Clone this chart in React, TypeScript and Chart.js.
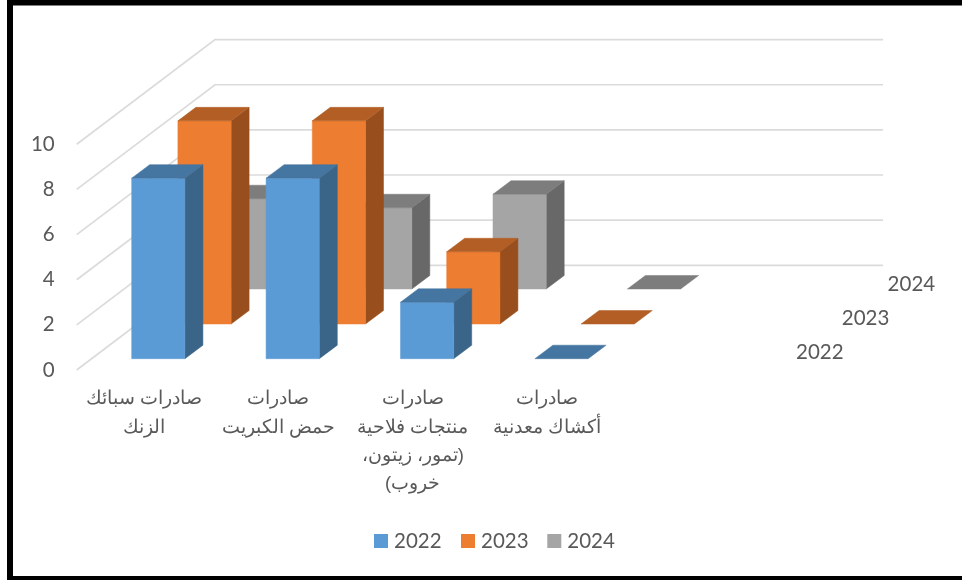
import React, { useEffect, useRef } from "react";
import { Chart, registerables } from "chart.js";

Chart.register(...registerables);

const categories: string[][] = [
  ["صادرات سبائك", "الزنك"],
  ["صادرات", "حمض الكبريت"],
  ["صادرات", "منتجات فلاحية", "(تمور، زيتون،", "خروب)"],
  ["صادرات", "أكشاك معدنية"],
];
const blankCategory = "";
const values2022 = [8, 8, 2.5, 0];
const values2023 = [9, 9, 3.2, 0];
const values2024 = [4, 3.6, 4.2, 0];
const seriesNames = ["2022", "2023", "2024"];
const faceColors = ["#5B9BD5", "#ED7D31", "#A5A5A5"];
const topColors = ["#4575A1", "#B35E24", "#7D7D7D"];
const sideColors = ["#3A6588", "#994F1D", "#686868"];
const legendSwatchX = [374, 461, 547.3];

const TEXT = "#595959";
const LATIN = 'Lato, "Open Sans", sans-serif';
const depthDx = [14.4, 60.6, 106.9];
const depthDy = [-11.3, -46, -81];
const BAR_DX = 18;
const BAR_DY = -13.5;
const WALL_DX = 138.3;
const WALL_DY = -104.7;

const poly = (ctx: CanvasRenderingContext2D, pts: number[][], color: string) => {
  ctx.beginPath();
  pts.forEach(([x, y], i) => (i ? ctx.lineTo(x, y) : ctx.moveTo(x, y)));
  ctx.closePath();
  ctx.fillStyle = color;
  ctx.strokeStyle = color;
  ctx.lineWidth = 0.5;
  ctx.fill();
  ctx.stroke();
};

const scene3d = {
  id: "scene3d",
  beforeDraw(chart: any) {
    const { ctx, width, height } = chart;
    ctx.save();
    ctx.fillStyle = "#fff";
    ctx.fillRect(0, 0, width, height);
    ctx.fillStyle = "#000";
    ctx.fillRect(7, 0, width - 7, 5.5);
    ctx.fillRect(7, 0, 6, height);
    ctx.fillRect(7, 576, width - 7, 4);
    ctx.restore();
  },
  beforeDatasetsDraw(chart: any) {
    const { ctx } = chart;
    const xs = chart.scales.x;
    const ys = chart.scales.y;
    ctx.save();
    // perspective gridlines
    ctx.strokeStyle = "#DBDBDB";
    ctx.lineWidth = 1.7;
    ys.ticks.forEach((t: any) => {
      const y = ys.getPixelForValue(t.value);
      ctx.beginPath();
      ctx.moveTo(xs.left, y);
      ctx.lineTo(xs.left + WALL_DX, y + WALL_DY);
      ctx.lineTo(xs.right + WALL_DX - 4, y + WALL_DY);
      ctx.stroke();
    });
    // bars, back row first
    for (let d = chart.data.datasets.length - 1; d >= 0; d--) {
      const meta = chart.getDatasetMeta(d);
      meta.data.forEach((el: any) => {
        const { x, y, base, width } = el.getProps(["x", "y", "base", "width"], true);
        const l = x - width / 2 + depthDx[d];
        const r = l + width;
        const t = y + depthDy[d];
        const b = base + depthDy[d];
        if (b - t > 0.5) {
          poly(ctx, [[r, t], [r + BAR_DX, t + BAR_DY], [r + BAR_DX, b + BAR_DY], [r, b]], sideColors[d]);
          poly(ctx, [[l, t], [r, t], [r, b], [l, b]], faceColors[d]);
        }
        poly(ctx, [[l, t], [l + BAR_DX, t + BAR_DY], [r + BAR_DX, t + BAR_DY], [r, t]], topColors[d]);
      });
    }
    // depth axis labels
    ctx.fillStyle = TEXT;
    ctx.font = `20.5px ${LATIN}`;
    ctx.textBaseline = "middle";
    ctx.textAlign = "left";
    const y0 = ys.getPixelForValue(0);
    seriesNames.forEach((name, i) => {
      ctx.fillText(name, xs.right + 47.3 + 45.8 * i, y0 - 17.3 - 34.4 * i);
    });
    // legend
    seriesNames.forEach((name, i) => {
      ctx.fillStyle = faceColors[i];
      ctx.fillRect(legendSwatchX[i], 534, 14, 14);
      ctx.fillStyle = TEXT;
      ctx.fillText(name, legendSwatchX[i] + 20, 541);
    });
    ctx.restore();
  },
  beforeDatasetDraw() {
    return false;
  },
};

export default function App() {
  const ref = useRef<HTMLCanvasElement>(null);
  useEffect(() => {
    const chart = new Chart(ref.current as HTMLCanvasElement, {
      type: "bar",
      data: {
        labels: [...categories, blankCategory],
        datasets: [
          { label: seriesNames[0], data: values2022, backgroundColor: faceColors[0] },
          { label: seriesNames[1], data: values2023, backgroundColor: faceColors[1] },
          { label: seriesNames[2], data: values2024, backgroundColor: faceColors[2] },
        ],
      },
      options: {
        animation: false,
        responsive: false,
        devicePixelRatio: 1,
        layout: { padding: { left: 0, top: 144.3, right: 213.3, bottom: 60 } },
        datasets: { bar: { grouped: false, barPercentage: 0.396, categoryPercentage: 1 } },
        plugins: { legend: { display: false }, tooltip: { enabled: false } },
        scales: {
          x: {
            grid: { display: false },
            border: { display: false },
            afterFit: (s: any) => { s.height = 150; },
            ticks: {
              autoSkip: false,
              maxRotation: 0,
              minRotation: 0,
              padding: 7,
              color: "#595959",
              font: { family: '"Liberation Sans", Arial, sans-serif', size: 18.5, lineHeight: 1.535 },
            },
          },
          y: {
            min: 0,
            max: 10,
            grid: { display: false, drawTicks: false },
            border: { display: false },
            afterFit: (s: any) => { s.width = 76.7; },
            ticks: {
              stepSize: 2,
              padding: 22,
              color: "#595959",
              font: { family: LATIN, size: 20.5 },
            },
          },
        },
      } as any,
      plugins: [scene3d],
    });
    return () => chart.destroy();
  }, []);
  return (
    <div style={{ position: "absolute", left: 0, top: 0, width: 962, height: 580, overflow: "hidden", background: "#fff" }}>
      <canvas ref={ref} dir="rtl" width={962} height={580} style={{ display: "block", width: 962, height: 580 }} />
    </div>
  );
}
